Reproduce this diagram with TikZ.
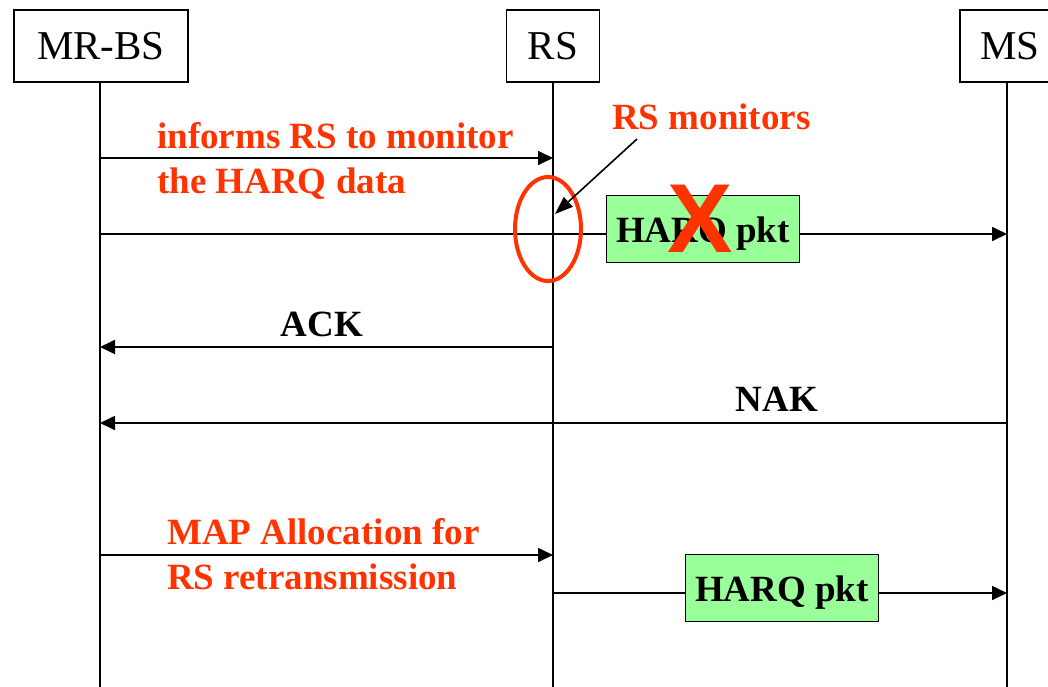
\documentclass[tikz,border=0pt]{standalone}
\usepackage{fontspec}
\setmainfont{Liberation Serif}
\newfontfamily\xfont{Liberation Sans}
\usetikzlibrary{arrows.meta}
\definecolor{redtxt}{HTML}{FF3300}
\definecolor{pktgreen}{HTML}{99FF99}
\tikzset{
  entity/.style={draw, line width=1.6pt, fill=white, minimum height=72pt, inner sep=0pt,
    font=\fontsize{41}{49}\selectfont},
  life/.style={line width=1.4pt},
  msg/.style={line width=1.7pt, -{Triangle[length=15pt,width=14pt]}},
  plain/.style={line width=1.7pt},
  redlbl/.style={text=redtxt, font=\fontsize{37}{44}\selectfont\bfseries, inner sep=0pt, anchor=base west},
  blklbl/.style={font=\fontsize{37}{44}\selectfont\bfseries, inner sep=0pt, anchor=base},
  pkt/.style={draw, line width=1.8pt, fill=pktgreen, minimum width=193pt, minimum height=67pt,
    inner sep=0pt, text height=26pt, text depth=0pt, font=\fontsize{37}{44}\selectfont\bfseries}
}
\begin{document}
\begin{tikzpicture}[x=1pt,y=-1pt]
\clip (0,0) rectangle (1048,686);
\fill[white] (0,0) rectangle (1048,686);
% entities
\node[entity, minimum width=174pt] (mrbs) at (101,46) {MR-BS};
\node[entity, minimum width=93pt] (rs) at (553,46) {RS};
\node[entity, minimum width=100pt] (ms) at (1010,46) {MS};
% lifeline ends
\coordinate (mrbsEnd) at (100,690);
\coordinate (rsEnd) at (553,690);
\coordinate (msEnd) at (1007,690);
\draw[life] (mrbs.south -| mrbsEnd) -- (mrbsEnd);
\draw[life] (rs.south -| rsEnd) -- (rsEnd);
\draw[life] (ms.south -| msEnd) -- (msEnd);
% message 1
\coordinate (m1s) at (100,158);
\coordinate (m1e) at (553,158);
\draw[msg] (m1s) -- (m1e);
\node[redlbl] (t1a) at (157,148) {informs RS to monitor};
\node[redlbl] (t1b) at (157,193) {the HARQ data};
% message 2 (HARQ pkt to MS, lost)
\coordinate (m2s) at (100,234);
\coordinate (m2e) at (1007,234);
\node[pkt] (pkt1) at (703,229) {HARQ pkt};
\draw[plain] (m2s) -- (pkt1.west |- m2s);
\draw[msg] (pkt1.east |- m2e) -- (m2e);
\node[text=redtxt, font=\fontsize{98}{100}\selectfont\xfont\bfseries, inner sep=0pt] (cross) at (700,219) {X};
% RS monitors
\node[redlbl] (mon) at (612,129) {RS monitors};
\draw[redtxt, line width=4pt] (548,229) ellipse [x radius=33pt, y radius=52pt];
\coordinate (monS) at (637,139);
\coordinate (monE) at (555,214);
\draw[line width=1.6pt, -{Triangle[length=18pt,width=13pt]}] (monS) -- (monE);
% ACK
\coordinate (acks) at (553,347);
\coordinate (acke) at (100,347);
\draw[msg] (acks) -- (acke);
\node[blklbl] (ack) at (322,336) {ACK};
% NAK
\coordinate (naks) at (1007,423);
\coordinate (nake) at (100,423);
\draw[msg] (naks) -- (nake);
\node[blklbl] (nak) at (777,411) {NAK};
% MAP allocation
\coordinate (maps) at (100,555);
\coordinate (mape) at (553,555);
\draw[msg] (maps) -- (mape);
\node[redlbl] (t3a) at (167,544) {MAP Allocation for};
\node[redlbl] (t3b) at (167,589) {RS retransmission};
% retransmission
\coordinate (rts) at (553,593);
\coordinate (rte) at (1007,593);
\node[pkt] (pkt2) at (782,588) {HARQ pkt};
\draw[plain] (rts) -- (pkt2.west |- rts);
\draw[msg] (pkt2.east |- rte) -- (rte);
\end{tikzpicture}
\end{document}
